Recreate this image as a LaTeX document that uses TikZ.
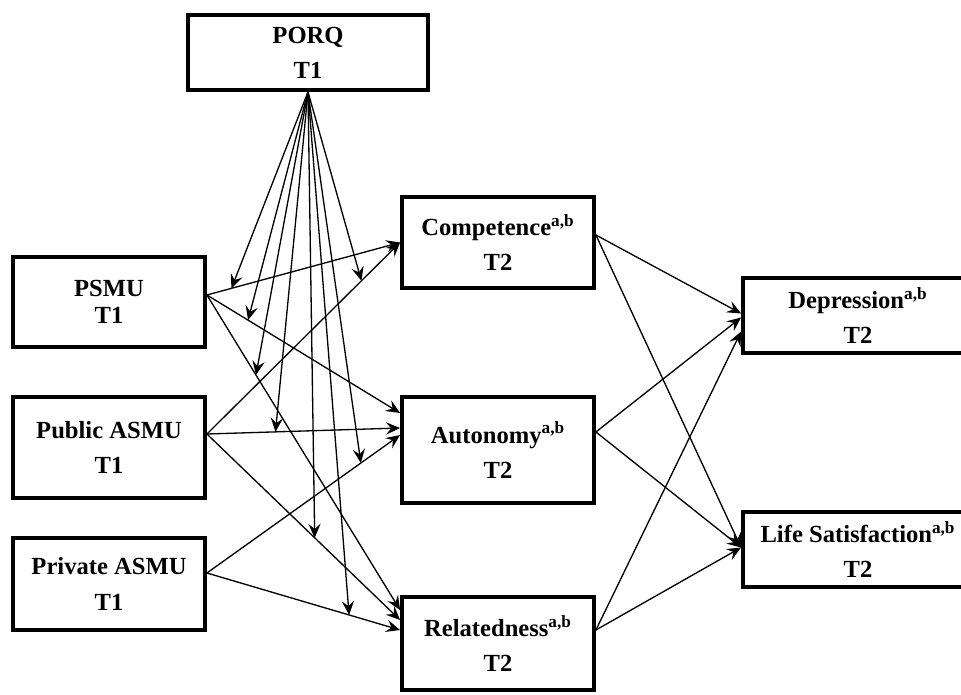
\documentclass[tikz,border=0pt]{standalone}
\usepackage{fontspec}
\setmainfont{Liberation Serif}
\usetikzlibrary{calc, arrows.meta}

\tikzset{
    varbox/.style = {draw, black, line width = 2.2pt, align = center, inner sep = 0pt,
                     font = \bfseries\fontsize{14}{20}\selectfont},
    leftbox/.style = {varbox, minimum width = 3.84cm},
    midbox/.style = {varbox, minimum width = 3.84cm},
    rightbox/.style = {varbox, minimum width = 4.6cm, minimum height = 1.5cm},
    link/.style = {black, line width = 0.75pt, -{Stealth[length = 8pt, width = 7pt, inset = 3pt]}}
}
\newcommand{\ab}{\textsuperscript{a,b}}

\begin{document}
\begin{tikzpicture}[x = 0.02cm, y = -0.02cm]
            \useasboundingbox (0, 0) rectangle (961, 694);

            % moderator
            \node[varbox, minimum width = 4.8cm, minimum height = 1.5cm] (porq) at (308, 52.5) {PORQ\\T1};

            % T1 predictors
            \node[leftbox, minimum height = 1.8cm] (psmu) at (109, 302) {PSMU\\[-5pt]T1};
            \node[leftbox, minimum height = 2.02cm] (pub) at (109, 447.5) {Public ASMU\\T1};
            \node[leftbox, minimum height = 1.84cm] (priv) at (109, 584) {Private ASMU\\T1};

            % T2 needs
            \node[midbox, minimum height = 1.82cm] (comp) at (498, 242.5) {Competence\ab\\T2};
            \node[midbox, minimum height = 2.12cm] (aut) at (498, 450) {Autonomy\ab\\T2};
            \node[midbox, minimum height = 1.86cm] (rel) at (498, 643.5) {Relatedness\ab\\T2};

            % T2 outcomes
            \node[rightbox] (dep) at (858, 315.5) {Depression\ab\\T2};
            \node[rightbox] (life) at (858, 549.5) {Life Satisfaction\ab\\T2};

            \coordinate (psmu_out) at ($(psmu.east) + (0, -7)$);
            \coordinate (pub_out) at ($(pub.east) + (0, -13.5)$);
            \coordinate (priv_out) at ($(priv.east) + (0, -11)$);
            \coordinate (comp_out) at ($(comp.east) + (0, -7.5)$);
            \coordinate (aut_out) at ($(aut.east) + (0, -18)$);
            \coordinate (rel_out) at ($(rel.east) + (0, -13.5)$);

            \coordinate (aut_in1) at ($(aut.west) + (0, -37)$);
            \coordinate (aut_in2) at ($(aut.west) + (0, -22)$);
            \coordinate (aut_in3) at ($(aut.west) + (0, -15)$);
            \coordinate (rel_in1) at ($(rel.west) + (0, -33.5)$);
            \coordinate (rel_in2) at ($(rel.west) + (0, -23.5)$);
            \coordinate (rel_in3) at ($(rel.west) + (0, -13.5)$);
            \coordinate (dep_in1) at ($(dep.west) + (0, -2)$);
            \coordinate (dep_in2) at ($(dep.west) + (0, 2)$);
            \coordinate (dep_in3) at ($(dep.west) + (0, 16)$);
            \coordinate (life_in) at ($(life.west) + (0, -2)$);

            % T1 -> T2 paths
            \draw[link] (psmu_out) -- coordinate[pos = 0.127] (m_psmu_comp) (comp.west);
            \draw[link] (psmu_out) -- coordinate[pos = 0.213] (m_psmu_aut) (aut_in1);
            \draw[link] (psmu_out) -- coordinate[pos = 0.254] (m_psmu_rel) (rel_in1);
            \draw[link] (pub_out) -- coordinate[pos = 0.8] (m_pub_comp) (comp.west);
            \draw[link] (pub_out) -- coordinate[pos = 0.355] (m_pub_aut) (aut_in2);
            \draw[link] (pub_out) -- coordinate[pos = 0.558] (m_pub_rel) (rel_in2);
            \draw[link] (priv_out) -- coordinate[pos = 0.797] (m_priv_aut) (aut_in3);
            \draw[link] (priv_out) -- coordinate[pos = 0.736] (m_priv_rel) (rel_in3);

            % moderation by PORQ
            \foreach \m in {m_psmu_comp, m_psmu_aut, m_psmu_rel, m_pub_comp, m_pub_aut, m_pub_rel, m_priv_aut, m_priv_rel}
                \draw[link] (porq.south) -- (\m);

            % needs -> outcomes
            \draw[link] (comp_out) -- (dep_in1);
            \draw[link] (comp_out) -- (life_in);
            \draw[link] (aut_out) -- (dep_in2);
            \draw[link] (aut_out) -- (life_in);
            \draw[link] (rel_out) -- (dep_in3);
            \draw[link] (rel_out) -- (life_in);
        \end{tikzpicture}
\end{document}
